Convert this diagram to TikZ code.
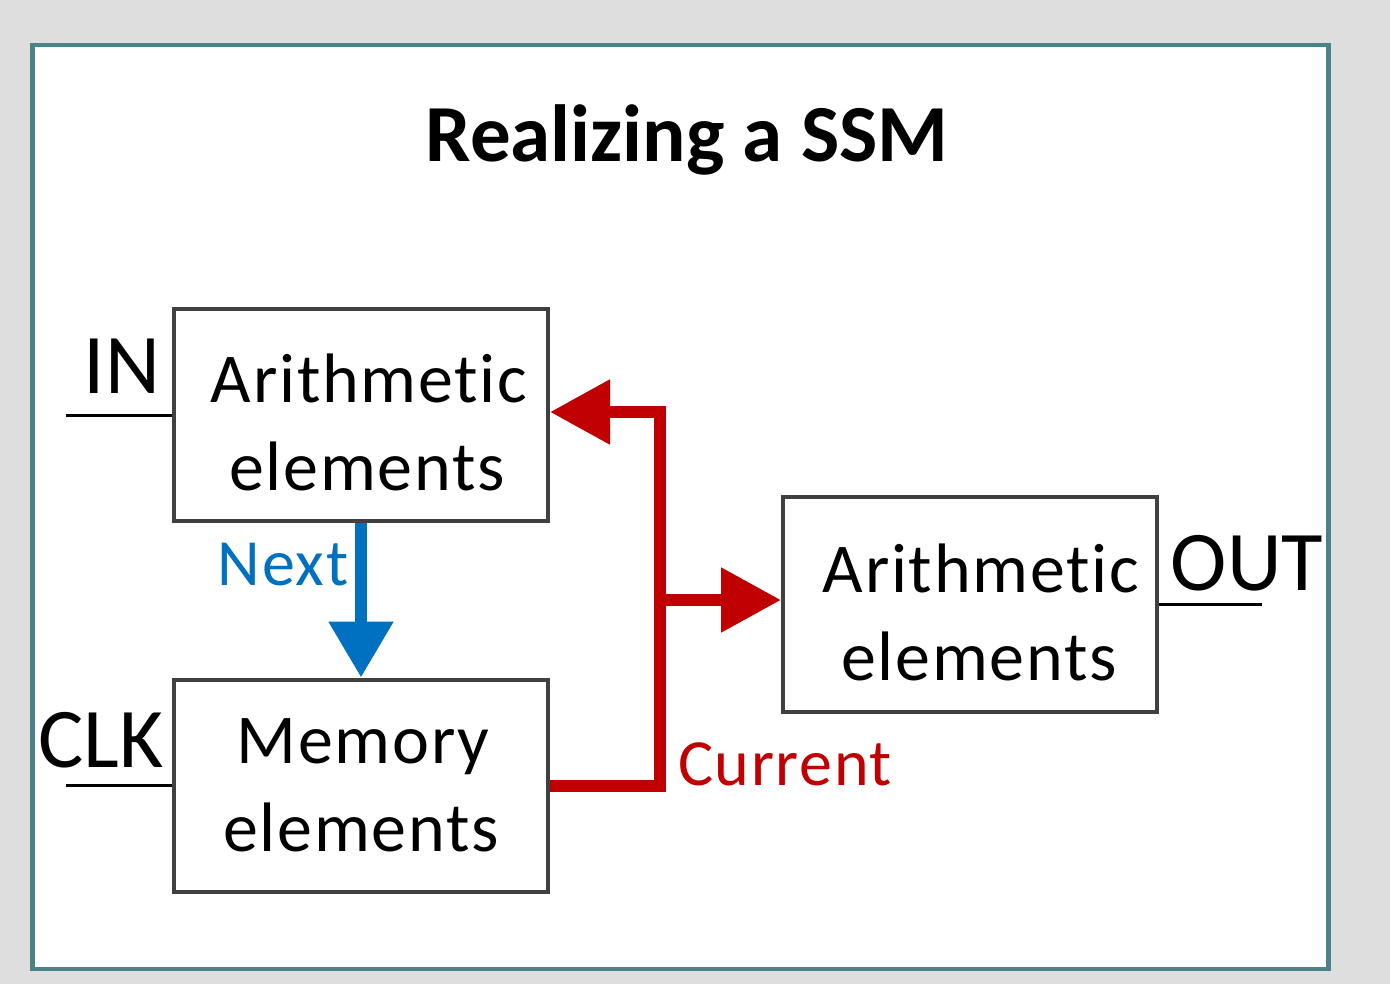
\documentclass[tikz,border=0pt]{standalone}
\usepackage{fontspec}
\setmainfont{Carlito}
\newfontfamily\boxfont[LetterSpace=2.5,Ligatures=NoCommon]{Carlito}
\usetikzlibrary{arrows.meta}
\definecolor{bgGray}{HTML}{DEDEDE}
\definecolor{panelTeal}{HTML}{4A8287}
\definecolor{boxGray}{HTML}{404040}
\definecolor{sigRed}{HTML}{C00000}
\definecolor{sigBlue}{HTML}{0070C0}
\newcommand{\topstrut}{\rule{0pt}{64pt}}
\tikzset{
  blockbox/.style={draw=boxGray, line width=4pt, fill=white, minimum width=374pt,
    minimum height=212pt, inner sep=0pt, align=center,
    font=\boxfont\fontsize{70}{88}\selectfont},
  pinlabel/.style={font=\fontsize{85}{85}\selectfont, inner sep=0pt, anchor=base},
  pinline/.style={draw=black, line width=3pt},
  redbus/.style={draw=sigRed, line width=12pt, line join=miter},
  redarrow/.style={redbus, -{Triangle[length=60pt,width=62pt]}},
  bluearrow/.style={draw=sigBlue, line width=12pt, -{Triangle[length=56pt,width=62pt]}},
  siglabel/.style={font=\boxfont\fontsize{66}{66}\selectfont, inner sep=0pt, anchor=base}
}
\begin{document}
\begin{tikzpicture}[x=1pt,y=-1pt]
\useasboundingbox (0,0) rectangle (1390,984);
\fill[bgGray] (0,0) rectangle (1390,984);
\draw[panelTeal, line width=4.5pt, fill=white] (32.5,45) rectangle (1328.5,969);

\node[font=\bfseries\fontsize{81}{81}\selectfont, inner sep=0pt, anchor=base] (title) at (687,162) {Realizing a SSM};

\node[blockbox] (arithA) at (361,415) {\topstrut\hspace*{16pt}Arithmetic\\\hspace*{12pt}elements};
\node[blockbox] (mem) at (361,785.5) {\hspace*{4pt}Memory\\elements};
\node[blockbox, minimum height=215pt] (arithB) at (970,604.5) {\topstrut\hspace*{22pt}Arithmetic\\\hspace*{18pt}elements};

\node[pinlabel] (inlbl) at (122,393) {IN};
\node[pinlabel] (clklbl) at (101,767) {CLK};
\node[pinlabel] (outlbl) at (1247,590) {OUT};

\coordinate (inEnd) at (66,415);
\coordinate (clkEnd) at (66,785.5);
\coordinate (outEnd) at (1262,604.5);
\draw[pinline] (inEnd) -- (arithA.west);
\draw[pinline] (clkEnd) -- (mem.west);
\draw[pinline] (arithB.east) -- (outEnd);

\draw[bluearrow] (arithA.south) -- (mem.north);
\node[siglabel, text=sigBlue] (nextlbl) at (283,585) {Next};

\coordinate (busTop) at (660,412);
\coordinate (busBot) at (660,785.5);
\coordinate (busJoin) at (660,600);
\draw[redarrow] (mem.east) -- (busBot) -- (busTop) -- (busTop -| arithA.east);
\draw[redarrow] (busJoin) -- (busJoin -| arithB.west);
\node[siglabel, text=sigRed] (curlbl) at (785,785) {Current};
\end{tikzpicture}
\end{document}
